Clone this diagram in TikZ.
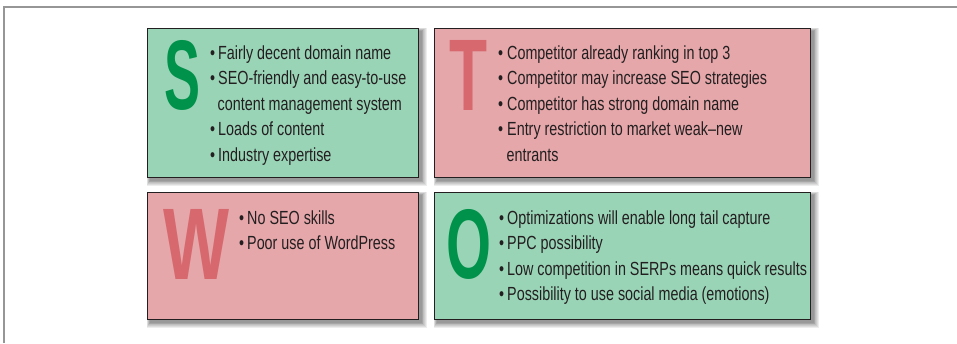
\documentclass[tikz,border=0pt]{standalone}
\usepackage{fontspec}
\setmainfont{Liberation Sans}[FakeStretch=0.755]
\definecolor{boxgreen}{RGB}{154,212,183}
\definecolor{boxred}{RGB}{229,167,170}
\definecolor{lettergreen}{RGB}{0,146,74}
\definecolor{letterred}{RGB}{214,104,110}
\definecolor{boxline}{RGB}{35,31,32}
\definecolor{framegray}{RGB}{150,150,150}
\newcommand\softshadow[4]{%
  \foreach \k in {1,...,7}{%
    \fill[black,opacity=0.07] ({#1+3-\k*0.5},{#2+3-\k*0.5}) rectangle ({#3+3+\k*0.8},{#4+3+\k*0.8});}}
\tikzset{
  swotbox/.style={draw=boxline, line width=1.2pt, inner sep=0pt, anchor=north west},
  bigletter/.style={anchor=base west, inner sep=0pt, font=\bfseries},
  bul/.style={anchor=base west, inner sep=0pt, font=\fontsize{19}{22}\selectfont, text=boxline},
  item/.style={anchor=base west, inner sep=0pt, font=\fontsize{19}{22}\selectfont, text=boxline},
}
\begin{document}
\begin{tikzpicture}[x=1pt,y=-1pt]
\useasboundingbox (0,0) rectangle (957,343);
% outer frame
\draw[framegray, line width=1.6pt] (4,343) -- (4,7) -- (957,7);
% shadows
\softshadow{147}{28}{418}{177}
\softshadow{434}{28}{810}{177}
\softshadow{147}{192}{418}{319}
\softshadow{434}{192}{810}{319}
% boxes
\node[swotbox, fill=boxgreen, minimum width=271pt, minimum height=149pt] (Sbox) at (147,28) {};
\node[swotbox, fill=boxred, minimum width=376pt, minimum height=149pt] (Tbox) at (434,28) {};
\node[swotbox, fill=boxred, minimum width=271pt, minimum height=127pt] (Wbox) at (147,192) {};
\node[swotbox, fill=boxgreen, minimum width=376pt, minimum height=127pt] (Obox) at (434,192) {};
% big letters
\node[bigletter, text=lettergreen] (Sl) at (164,109.5) {\resizebox{36pt}{69pt}{S}};
\node[bigletter, text=letterred] (Tl) at (449,110) {\resizebox{38pt}{70pt}{T}};
\node[bigletter, text=letterred] (Wl) at (163,279) {\resizebox{66pt}{70pt}{W}};
\node[bigletter, text=lettergreen] (Ol) at (446,278.5) {\resizebox{45pt}{69pt}{O}};
% S items
\node[bul] (Sb1) at (210,59) {•};
\node[item] (S1) at (218,59) {Fairly decent domain name};
\node[bul] (Sb2) at (210,84.5) {•};
\node[item] (S2) at (218,84.5) {SEO-friendly and easy-to-use};
\node[item] (S2b) at (217.5,110) {content management system};
\node[bul] (Sb3) at (210,135.5) {•};
\node[item] (S3) at (218,135.5) {Loads of content};
\node[bul] (Sb4) at (210,161) {•};
\node[item] (S4) at (218,161) {Industry expertise};
% T items
\node[bul] (Tb1) at (498,59) {•};
\node[item] (T1) at (507,59) {Competitor already ranking in top 3};
\node[bul] (Tb2) at (498,84.5) {•};
\node[item] (T2) at (507,84.5) {Competitor may increase SEO strategies};
\node[bul] (Tb3) at (498,110) {•};
\node[item] (T3) at (507,110) {Competitor has strong domain name};
\node[bul] (Tb4) at (498,135.5) {•};
\node[item] (T4) at (507,135.5) {Entry restriction to market weak–new};
\node[item] (T4b) at (506.5,161) {entrants};
% W items
\node[bul] (Wb1) at (239,224) {•};
\node[item] (W1) at (247,224) {No SEO skills};
\node[bul] (Wb2) at (239,249.5) {•};
\node[item] (W2) at (247,249.5) {Poor use of WordPress};
% O items
\node[bul] (Ob1) at (499,224) {•};
\node[item] (O1) at (507,224) {Optimizations will enable long tail capture};
\node[bul] (Ob2) at (499,249.5) {•};
\node[item] (O2) at (507,249.5) {PPC possibility};
\node[bul] (Ob3) at (499,275) {•};
\node[item] (O3) at (507,275) {Low competition in SERPs means quick results};
\node[bul] (Ob4) at (499,300.5) {•};
\node[item] (O4) at (507,300.5) {Possibility to use social media (emotions)};
\end{tikzpicture}
\end{document}
